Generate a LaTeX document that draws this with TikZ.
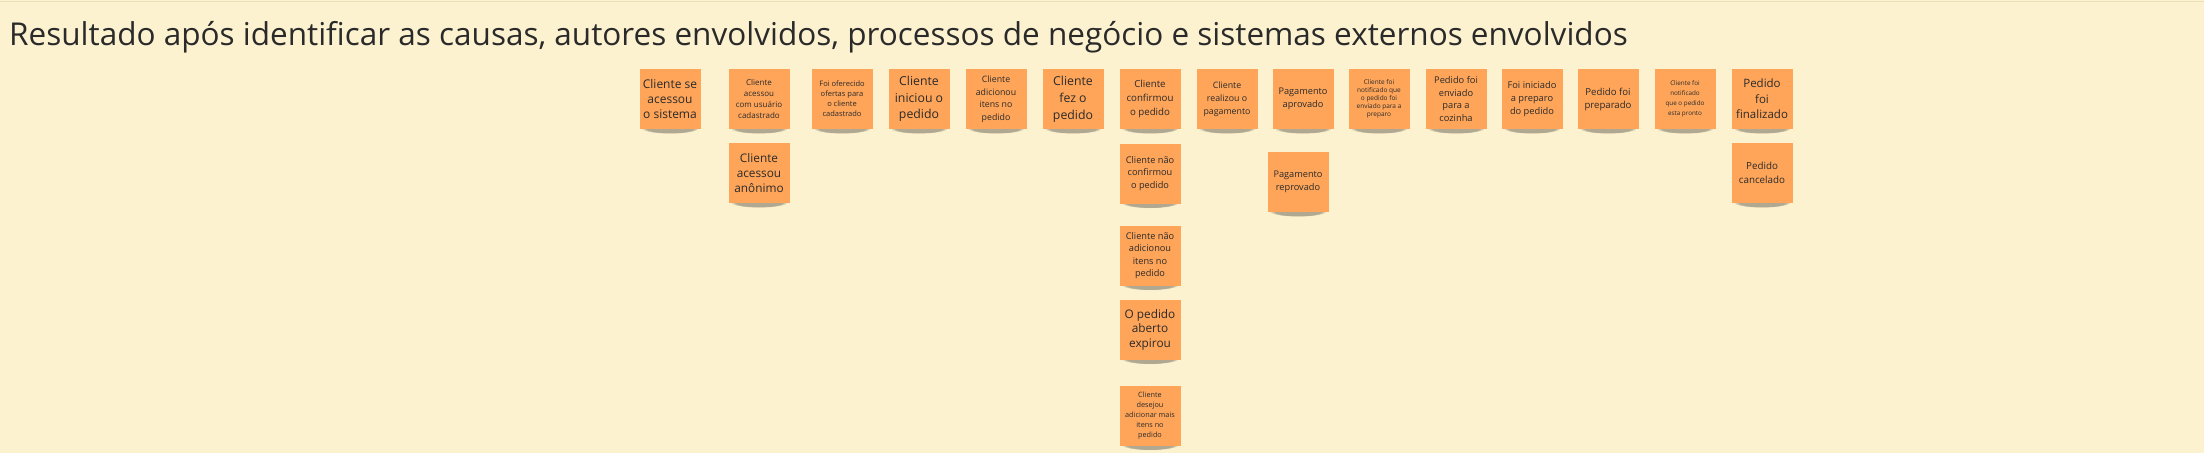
\documentclass[tikz,border=0pt]{standalone}
\usepackage{fontspec}
\setmainfont{Open Sans}
\usetikzlibrary{fadings}
\definecolor{bgc}{HTML}{FDF2D0}
\definecolor{stk}{HTML}{FFA559}
\definecolor{ink}{HTML}{2A2A2A}
\definecolor{edgec}{HTML}{EEE0B6}
\pgfdeclarelayer{back}
\pgfdeclarelayer{shade}
\pgfsetlayers{back,shade,main}
\begin{document}
\begin{tikzpicture}[x=1pt,y=-1pt,
  sticky/.style={rectangle, fill=stk, minimum width=61pt, minimum height=60pt,
    inner sep=0pt, align=center, text=ink},
  fsz/.style 2 args={font=\fontsize{#1}{#2}\selectfont},
  title/.style={anchor=base west, inner sep=0pt, text=ink, font=\fontsize{31.5}{36}\selectfont},
  shadowfill/.style={fill=black, opacity=0.3, path fading=circle with fuzzy edge 20 percent}
]
\useasboundingbox (0,0) rectangle (2204,453);
\begin{pgfonlayer}{back}
  \fill[bgc] (0,0) rectangle (2204,453);
  \draw[edgec, line width=1.5pt] (0,1.5) -- (2204,1.5);
\end{pgfonlayer}

\node[title] (title) at (9,45) {Resultado após identificar as causas, autores envolvidos, processos de negócio e sistemas externos envolvidos};

% row 1
\node[sticky, fsz={12}{14.7}]   (s1)  at (670,99)  {Cliente se\\acessou\\o sistema};
\node[sticky, fsz={8}{11}]      (s2)  at (759,99)  {Cliente\\acessou\\com usuário\\cadastrado};
\node[sticky, fsz={7.5}{10}]    (s3)  at (842,99)  {Foi oferecido\\ofertas para\\o cliente\\cadastrado};
\node[sticky, fsz={12.3}{16.5}] (s4)  at (919,99)  {Cliente\\iniciou o\\pedido};
\node[sticky, fsz={8.8}{12.5}]  (s5)  at (996,99)  {Cliente\\adicionou\\itens no\\pedido};
\node[sticky, fsz={12.3}{17}]   (s6)  at (1073,99) {Cliente\\fez o\\pedido};
\node[sticky, fsz={9.7}{14}]    (s7)  at (1150,99) {Cliente\\confirmou\\o pedido};
\node[sticky, fsz={8.8}{13}]    (s8)  at (1227,99) {Cliente\\realizou o\\pagamento};
\node[sticky, fsz={9.2}{13}]    (s9)  at (1303,99) {Pagamento\\aprovado};
\node[sticky, fsz={6.5}{8}]     (s10) at (1379,99) {Cliente foi\\notificado que\\o pedido foi\\enviado para a\\preparo};
\node[sticky, fsz={9.3}{12.7}]  (s11) at (1456,99) {Pedido foi\\enviado\\para a\\cozinha};
\node[sticky, fsz={9.3}{13}]    (s12) at (1532,99) {Foi iniciado\\a preparo\\do pedido};
\node[sticky, fsz={9.6}{13}]    (s13) at (1608,99) {Pedido foi\\preparado};
\node[sticky, fsz={6.3}{10}]    (s14) at (1685,99) {Cliente foi\\notificado\\que o pedido\\esta pronto};
\node[sticky, fsz={11.5}{15.5}] (s15) at (1762,99) {Pedido\\foi\\finalizado};

% lower stickies
\node[sticky, fsz={11.8}{15}]   (a1) at (759,173)   {Cliente\\acessou\\anônimo};
\node[sticky, fsz={9.2}{12.5}]  (c1) at (1150,173.5) {Cliente não\\confirmou\\o pedido};
\node[sticky, fsz={9.2}{12.5}]  (c2) at (1150,255.5) {Cliente não\\adicionou\\itens no\\pedido};
\node[sticky, fsz={11.8}{14.5}] (c3) at (1150,329.5) {O pedido\\aberto\\expirou};
\node[sticky, fsz={7.3}{10}]    (c4) at (1150,415.5) {Cliente\\desejou\\adicionar mais\\itens no\\pedido};
\node[sticky, fsz={9.2}{13}]    (p1) at (1298,182)  {Pagamento\\reprovado};
\node[sticky, fsz={9.8}{13.5}]  (f1) at (1762,173)  {Pedido\\cancelado};

% shadows
\begin{pgfonlayer}{shade}
  \foreach \n in {s1,s2,s3,s4,s5,s6,s7,s8,s9,s10,s11,s12,s13,s14,s15,a1,c1,c2,c3,c4,p1,f1}{
    \fill[shadowfill] ([yshift=1pt]\n.south) ellipse [x radius=29pt, y radius=5.5pt];
  }
\end{pgfonlayer}
\end{tikzpicture}
\end{document}
